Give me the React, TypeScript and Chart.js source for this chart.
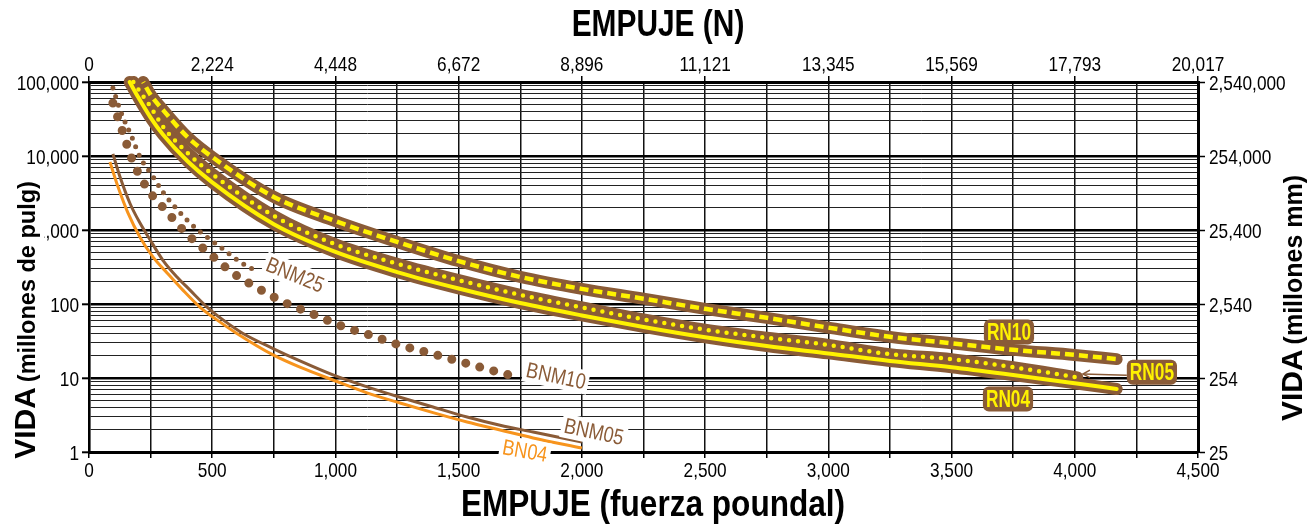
import { useEffect, useRef } from "react";
import { Chart, registerables } from "chart.js";

Chart.register(...registerables);

// ---------- data (thrust in lbf, life in millions of inches) ----------
const rn10Load = [220, 250, 300, 400, 500, 750, 1000, 1250, 1500, 1750, 2000, 2250, 2500, 2750, 3000, 3250, 3500, 3750, 4000, 4170];
const rn10Life = [100000, 67000, 42000, 18000, 9700, 2800, 1320, 690, 380, 232, 160, 118, 86, 65, 48, 36, 29.5, 24, 20.5, 18];

const rn05Load = [180, 200, 250, 300, 400, 500, 750, 1000, 1250, 1500, 1750, 2000, 2250, 2500, 2750, 3000, 3250, 3500, 3750, 4010];
const rn05Life = [100000, 80000, 46000, 25000, 11000, 5700, 1550, 640, 350, 210, 133, 90, 62, 45, 35, 28, 21, 18, 14, 10.2];

const rn04Load = [165, 200, 250, 300, 400, 500, 750, 1000, 1250, 1500, 1750, 2000, 2250, 2500, 2750, 3000, 3250, 3500, 3750, 4000, 4170];
const rn04Life = [100000, 62000, 33000, 19500, 8500, 4400, 1200, 505, 270, 162, 103, 70, 49, 35.5, 27, 21.5, 17, 14, 11, 8.5, 7.1];

const bnm25Load = [97, 126, 174, 207, 256, 300, 325, 410, 479, 544, 613, 686];
const bnm25Life = [83000, 42000, 18000, 9700, 5500, 3250, 2540, 1240, 800, 553, 370, 270];

const bnm10Load = [97, 138, 179, 235, 317, 398, 491, 584, 690, 799, 909, 1027, 1140, 1258, 1380, 1497, 1615, 1737];
const bnm10Life = [52000, 20500, 8300, 3700, 1750, 880, 474, 262, 160, 103, 73, 50, 38, 28, 21.8, 17, 13.2, 10.3];

const bnm05Load = [97, 126, 166, 207, 256, 300, 357, 410, 479, 544, 625, 747, 856, 990, 1128, 1262, 1396, 1534, 1668, 1802, 2000];
const bnm05Life = [10700, 5200, 2300, 1240, 665, 390, 232, 154, 91, 61, 40, 25, 17, 11, 7.6, 5.5, 4.06, 2.97, 2.3, 1.86, 1.36];

const bn04Load = [85, 118, 158, 207, 260, 317, 381, 450, 519, 600, 747, 856, 990, 1128, 1262, 1396, 1534, 1668, 1802, 2000];
const bn04Life = [8300, 3800, 1700, 800, 430, 263, 154, 91, 61, 40, 20.5, 14, 9.4, 6.3, 4.6, 3.4, 2.54, 1.98, 1.55, 1.13];

// ---------- tick labels ----------
const bottomTickValues = [0, 500, 1000, 1500, 2000, 2500, 3000, 3500, 4000, 4500];
const bottomTickLabels = ["0", "500", "1,000", "1,500", "2,000", "2,500", "3,000", "3,500", "4,000", "4,500"];
const topTickLabels = ["0", "2,224", "4,448", "6,672", "8,896", "11,121", "13,345", "15,569", "17,793", "20,017"];
const lifeTickValues = [1, 10, 100, 1000, 10000, 100000];
const leftTickLabels = ["1", "10", "100", "1,000", "10,000", "100,000"];
const rightTickLabels = ["25", "254", "2,540", "25,400", "254,000", "2,540,000"];

// ---------- styles ----------
const BROWN = "#8a5b37";
const YELLOW = "#fff200";
const ORANGE = "#f7941d";
const SANS = "'Liberation Sans', Arial, sans-serif";
const NARROW_SCALE = 0.82;

const curveLabels = [
  { text: "BNM25", load: 836, life: 246, angle: 22, color: BROWN },
  { text: "BNM10", load: 1895, life: 10.6, angle: 12, color: BROWN },
  { text: "BNM05", load: 2049, life: 1.87, angle: 12, color: BROWN },
  { text: "BN04", load: 1769, life: 1.03, angle: 10, color: ORANGE },
];
const boxLabels = [
  { text: "RN10", load: 3733, life: 41.9 },
  { text: "RN05", load: 4313, life: 12.0 },
  { text: "RN04", load: 3729, life: 5.2 },
];
const arrowTip = { load: 4033, life: 11.3 };

const pts = (xs: number[], ys: number[]) => xs.map((x, i) => ({ x, y: ys[i] }));

const logTickValues: number[] = [];
for (let e = 0; e < 5; e++) for (let m = 1; m < 10; m++) logTickValues.push(m * Math.pow(10, e));
logTickValues.push(100000);

const decadeIndex = (v: number) => {
  const e = Math.log10(v);
  return Math.abs(e - Math.round(e)) < 1e-9 ? Math.round(e) : -1;
};

// draw horizontally condensed text
function narrowText(ctx: any, text: string, x: number, y: number, font: string, align: string, sx = NARROW_SCALE) {
  ctx.save();
  ctx.translate(x, y);
  ctx.scale(sx, 1);
  ctx.font = font;
  ctx.textAlign = align;
  ctx.fillText(text, 0, 0);
  ctx.restore();
}
function narrowWidth(ctx: any, text: string, font: string, sx = NARROW_SCALE) {
  ctx.save();
  ctx.font = font;
  const w = ctx.measureText(text).width * sx;
  ctx.restore();
  return w;
}

function drawTitleRot(ctx: any, cx: number, cy: number, big: string, small: string, bigPx: number, smallPx: number, baseOff: number, white: boolean) {
  ctx.save();
  ctx.translate(cx, cy);
  ctx.rotate(-Math.PI / 2);
  ctx.font = `bold ${bigPx}px ${SANS}`;
  const w1 = ctx.measureText(big).width;
  ctx.font = `bold ${smallPx}px ${SANS}`;
  const gap = 5;
  const w2 = ctx.measureText(small).width;
  const total = w1 + gap + w2;
  if (white) {
    ctx.fillStyle = "#fff";
    ctx.fillRect(-total / 2 - 2, baseOff - bigPx * 0.85, total + 4, bigPx * 0.85 + 9.5);
  }
  ctx.fillStyle = "#000";
  ctx.textBaseline = "alphabetic";
  ctx.textAlign = "left";
  ctx.font = `bold ${bigPx}px ${SANS}`;
  ctx.fillText(big, -total / 2, baseOff);
  ctx.font = `bold ${smallPx}px ${SANS}`;
  ctx.fillText(small, -total / 2 + w1 + gap, baseOff);
  ctx.restore();
}

const textPlugin = {
  id: "customText",
  afterDraw(chart: any) {
    const { ctx, scales, chartArea } = chart;
    const sx = scales.x;
    const sy = scales.y;
    ctx.save();

    // tick labels
    const tickFont = `21px ${SANS}`;
    ctx.fillStyle = "#000";
    ctx.textBaseline = "alphabetic";
    bottomTickValues.forEach((v, i) => {
      const px = sx.getPixelForValue(v);
      narrowText(ctx, bottomTickLabels[i], px, chartArea.bottom + 25, tickFont, "center");
      narrowText(ctx, topTickLabels[i], px, chartArea.top - 11, tickFont, "center");
    });
    lifeTickValues.forEach((v, i) => {
      const py = sy.getPixelForValue(v);
      narrowText(ctx, leftTickLabels[i], chartArea.left - 10, py + 7.5, tickFont, "right");
      narrowText(ctx, rightTickLabels[i], chartArea.right + 11, py + 7.5, tickFont, "left");
    });

    // curve labels with white background
    for (const L of curveLabels) {
      const px = sx.getPixelForValue(L.load);
      const py = sy.getPixelForValue(L.life);
      const font = `22px ${SANS}`;
      const w = narrowWidth(ctx, L.text, font);
      ctx.save();
      ctx.translate(px, py);
      ctx.rotate((L.angle * Math.PI) / 180);
      ctx.fillStyle = "#fff";
      ctx.fillRect(-w / 2 - 3, -12, w + 6, 24);
      ctx.fillStyle = L.color;
      ctx.textBaseline = "middle";
      narrowText(ctx, L.text, 0, 1, font, "center");
      ctx.restore();
    }

    // RN boxed labels
    let rn05Left = 0;
    let rn05Y = 0;
    for (const B of boxLabels) {
      const px = sx.getPixelForValue(B.load);
      const py = sy.getPixelForValue(B.life);
      const font = `bold 24px ${SANS}`;
      const w = narrowWidth(ctx, B.text, font, 0.72) + 6;
      const h = 25;
      ctx.fillStyle = BROWN;
      ctx.beginPath();
      if (ctx.roundRect) ctx.roundRect(px - w / 2, py - h / 2, w, h, 6);
      else ctx.rect(px - w / 2, py - h / 2, w, h);
      ctx.fill();
      ctx.fillStyle = YELLOW;
      ctx.textBaseline = "middle";
      narrowText(ctx, B.text, px, py + 1, font, "center", 0.72);
      if (B.text === "RN05") {
        rn05Left = px - w / 2;
        rn05Y = py;
      }
    }
    // arrow RN05
    const tx = sx.getPixelForValue(arrowTip.load);
    const ty = sy.getPixelForValue(arrowTip.life);
    ctx.strokeStyle = BROWN;
    ctx.lineWidth = 1.5;
    ctx.beginPath();
    ctx.moveTo(rn05Left, rn05Y + 3);
    ctx.lineTo(tx, ty);
    ctx.stroke();
    ctx.beginPath();
    ctx.moveTo(tx + 7, ty - 4);
    ctx.lineTo(tx, ty);
    ctx.lineTo(tx + 7, ty + 3.5);
    ctx.stroke();

    // axis titles
    ctx.fillStyle = "#000";
    ctx.textBaseline = "alphabetic";
    narrowText(ctx, "EMPUJE (N)", 658, 36, `bold 36px ${SANS}`, "center", 0.83);
    narrowText(ctx, "EMPUJE (fuerza poundal)", 653, 516, `bold 36px ${SANS}`, "center", 0.877);

    drawTitleRot(ctx, 24, 320, "VIDA", "(millones de pulg)", 30, 23.5, 11, true);
    drawTitleRot(ctx, 1290, 298, "VIDA", "(millones mm)", 30, 25, 12, false);

    ctx.restore();
  },
};

export default function App() {
  const ref = useRef<HTMLCanvasElement | null>(null);

  useEffect(() => {
    if (!ref.current) return;
    const band = (load: number[], life: number[]) => ({
      data: pts(load, life),
      borderColor: BROWN,
      borderWidth: 12,
      borderCapStyle: "round" as const,
      borderJoinStyle: "round" as const,
      pointRadius: 0,
      cubicInterpolationMode: "monotone" as const,
      clip: false as any,
      order: 10,
    });
    const chart = new Chart(ref.current, {
      type: "line",
      data: {
        datasets: [
          band(rn10Load, rn10Life),
          band(rn05Load, rn05Life),
          band(rn04Load, rn04Life),
          {
            data: pts(rn10Load, rn10Life),
            borderColor: YELLOW,
            borderWidth: 4.5,
            borderDash: [9, 5],
            borderDashOffset: -6,
            pointRadius: 0,
            cubicInterpolationMode: "monotone",
            clip: false as any,
            order: 1,
          },
          {
            data: pts(rn05Load, rn05Life),
            borderColor: YELLOW,
            borderWidth: 4.5,
            borderDash: [0, 9],
            borderCapStyle: "round",
            pointRadius: 0,
            cubicInterpolationMode: "monotone",
            clip: false as any,
            order: 1,
          },
          {
            data: pts(rn04Load, rn04Life),
            borderColor: YELLOW,
            borderWidth: 4,
            borderCapStyle: "round",
            pointRadius: 0,
            cubicInterpolationMode: "monotone",
            clip: false as any,
            order: 1,
          },
          {
            data: pts(bnm25Load, bnm25Life),
            borderColor: BROWN,
            borderWidth: 5,
            borderDash: [0, 9],
            borderCapStyle: "round",
            pointRadius: 0,
            cubicInterpolationMode: "monotone",
            order: 2,
          },
          {
            data: pts(bnm10Load, bnm10Life),
            borderColor: BROWN,
            borderWidth: 9,
            borderDash: [0, 14.5],
            borderCapStyle: "round",
            pointRadius: 0,
            cubicInterpolationMode: "monotone",
            order: 2,
          },
          {
            data: pts(bnm05Load, bnm05Life),
            borderColor: BROWN,
            borderWidth: 3,
            pointRadius: 0,
            cubicInterpolationMode: "monotone",
            order: 2,
          },
          {
            data: pts(bn04Load, bn04Life),
            borderColor: ORANGE,
            borderWidth: 3,
            pointRadius: 0,
            cubicInterpolationMode: "monotone",
            order: 2,
          },
        ],
      },
      options: {
        responsive: false,
        animation: false,
        layout: { padding: 0 },
        plugins: {
          legend: { display: false },
          tooltip: { enabled: false },
          title: { display: false },
        },
        scales: {
          x: {
            type: "linear",
            position: "bottom",
            min: 0,
            max: 4500,
            ticks: { stepSize: 250, autoSkip: false, maxRotation: 0, display: false },
            grid: { color: "#111", lineWidth: 1.5, tickLength: 6, tickColor: "#000" },
            border: { display: true, color: "#000", width: 3 },
            afterFit: (s: any) => {
              s.height = 73;
            },
          },
          x2: {
            type: "linear",
            position: "top",
            min: 0,
            max: 4500,
            ticks: { stepSize: 500, autoSkip: false, maxRotation: 0, display: false },
            grid: { drawOnChartArea: false, tickLength: 6, color: "#000", lineWidth: 1.5 },
            border: { display: true, color: "#000", width: 3 },
            afterFit: (s: any) => {
              s.height = 82;
            },
          },
          y: {
            type: "logarithmic",
            position: "left",
            min: 1,
            max: 100000,
            afterBuildTicks: (s: any) => {
              s.ticks = logTickValues.map((v) => ({ value: v }));
            },
            ticks: { autoSkip: false, display: false },
            grid: {
              color: (c: any) => (decadeIndex(c.tick.value) >= 0 ? "#000" : "#222"),
              lineWidth: (c: any) => (decadeIndex(c.tick.value) >= 0 ? 2.6 : 1),
              tickLength: 7,
              tickColor: (c: any) => (decadeIndex(c.tick.value) >= 0 ? "#000" : "rgba(0,0,0,0)"),
              tickWidth: 2,
            },
            border: { display: true, color: "#000", width: 2.6 },
            afterFit: (s: any) => {
              s.width = 89;
            },
          },
          y2: {
            type: "logarithmic",
            position: "right",
            min: 1,
            max: 100000,
            afterBuildTicks: (s: any) => {
              s.ticks = logTickValues.map((v) => ({ value: v }));
            },
            ticks: { autoSkip: false, display: false },
            grid: {
              drawOnChartArea: false,
              tickLength: 7,
              tickColor: (c: any) => (decadeIndex(c.tick.value) >= 0 ? "#000" : "rgba(0,0,0,0)"),
              tickWidth: 1.5,
            },
            border: { display: true, color: "#000", width: 3 },
            afterFit: (s: any) => {
              s.width = 118;
            },
          },
        },
      } as any,
      plugins: [textPlugin],
    });
    return () => chart.destroy();
  }, []);

  return (
    <div style={{ position: "absolute", left: 0, top: 0, width: 1316, height: 525, background: "#fff" }}>
      <canvas ref={ref} width={1316} height={525} style={{ width: 1316, height: 525, display: "block" }} />
    </div>
  );
}
